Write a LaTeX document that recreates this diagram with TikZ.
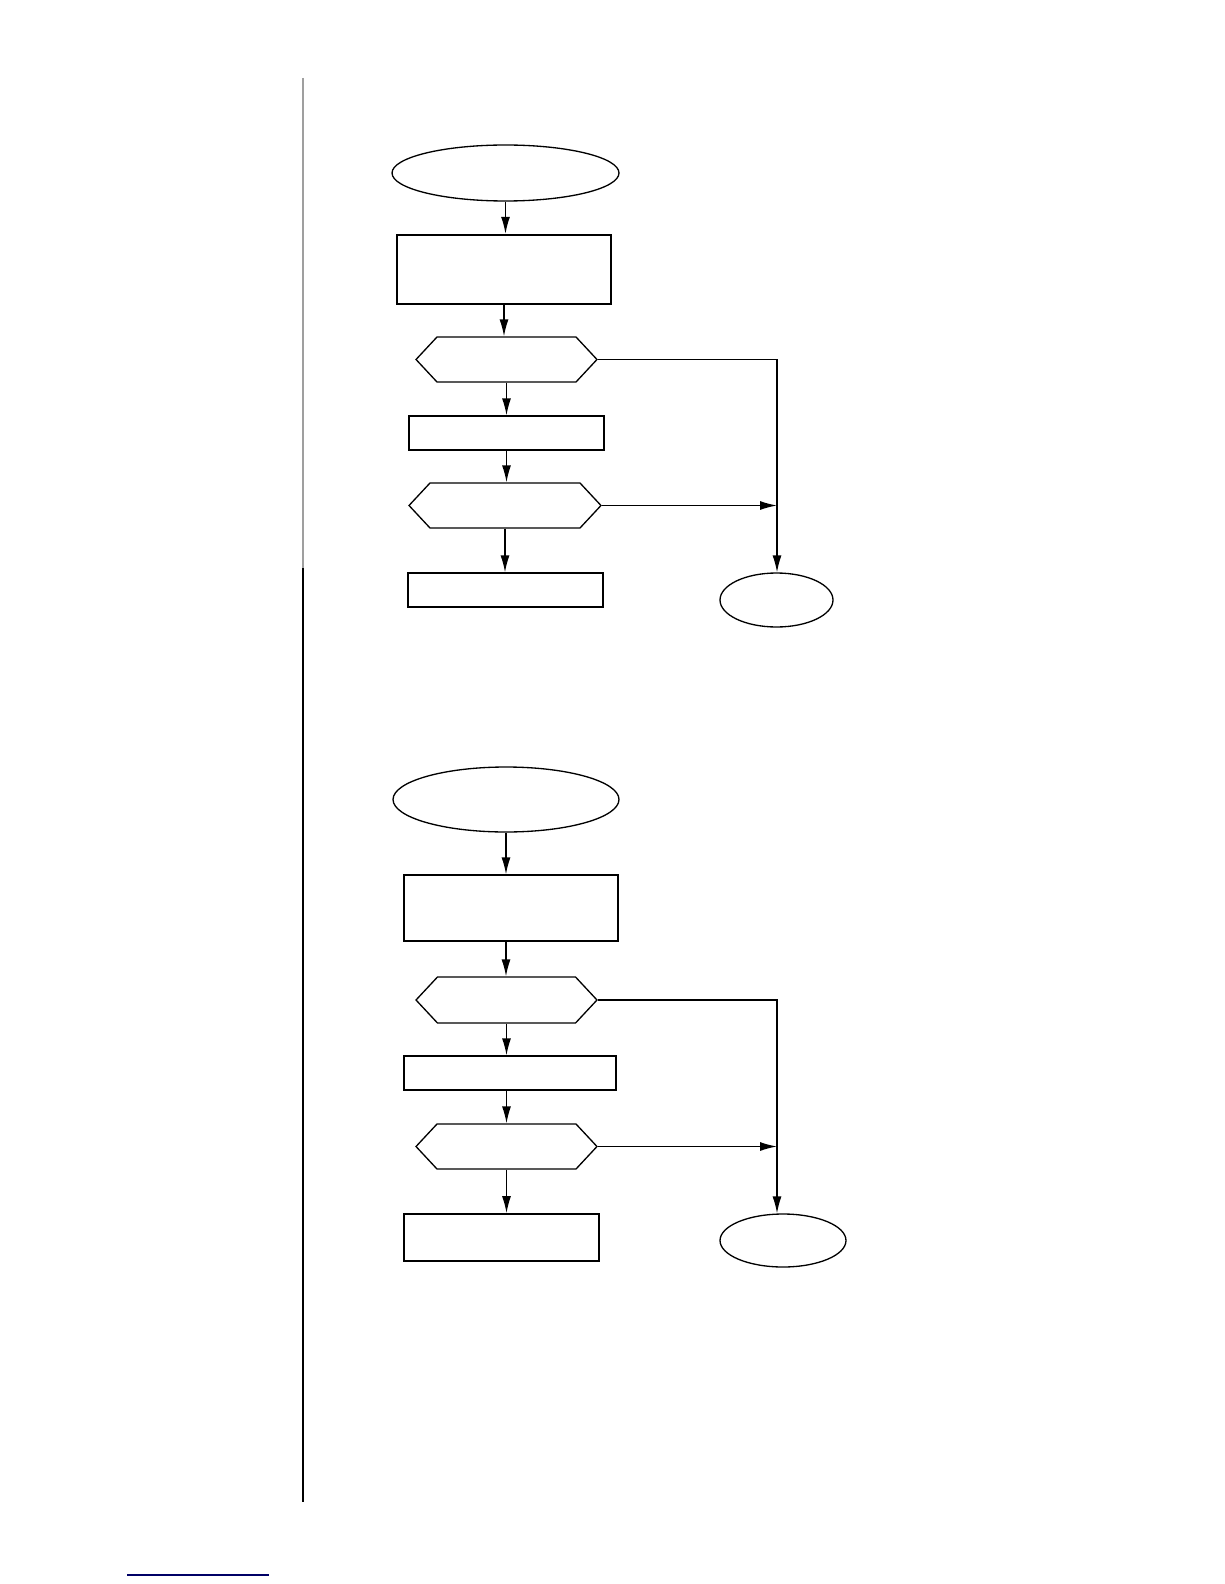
\documentclass[tikz,border=0pt]{standalone}
\usetikzlibrary{shapes.geometric,shapes.symbols,arrows.meta}
\begin{document}
\begin{tikzpicture}[x=0.02cm, y=-0.02cm, line width=0.75pt,
  term/.style={draw, ellipse, inner sep=0pt},
  stepbox/.style={draw, rectangle, inner sep=0pt},
  test/.style={draw, signal, signal from=nowhere, signal to=west and east, signal pointer angle=94, inner sep=0pt, minimum width=3.62cm, minimum height=0.90cm},
  flow/.style={-{Latex[length=0.34cm, width=0.18cm]}}]
  \useasboundingbox (0,0) rectangle (1224,1584);
  % margin rule and footer line
  \draw[gray!75, line width=0.9pt] (303,78) -- (303,568);
  \draw[line width=0.9pt] (303,568) -- (303,1502);
  \draw[blue!40!black, line width=0.6pt] (127,1575) -- (269,1575);
  % upper chart
  \node[term, minimum width=4.54cm, minimum height=1.12cm] (start1) at (505.5,173) {};
  \node[stepbox, line width=1.4pt, minimum width=4.28cm, minimum height=1.38cm] (box1a) at (504,269.5) {};
  \node[test] (hex1a) at (506.5,359.5) {};
  \node[stepbox, minimum width=3.90cm, minimum height=0.68cm] (box2a) at (506.5,433) {};
  \node[test, minimum width=3.84cm] (hex2a) at (505,505.5) {};
  \node[stepbox, minimum width=3.90cm, minimum height=0.68cm] (box3a) at (505.5,590) {};
  \node[term, minimum width=2.26cm, minimum height=1.08cm] (end1) at (776.5,600) {};
  \coordinate (j1) at (777,359.5);
  \draw[flow] (start1.south) -- (start1.south |- box1a.north);
  \draw[flow] (box1a.south) -- (box1a.south |- hex1a.north);
  \draw[flow] (hex1a.south) -- (hex1a.south |- box2a.north);
  \draw[flow] (box2a.south) -- (box2a.south |- hex2a.north);
  \draw[flow] (hex2a.south) -- (hex2a.south |- box3a.north);
  \draw[flow] (hex1a.east) -- (j1) -- (j1 |- end1.north);
  \draw[flow] (hex2a.east) -- (hex2a.east -| j1);
  % lower chart
  \node[term, minimum width=4.52cm, minimum height=1.30cm] (start2) at (506,799.5) {};
  \node[stepbox, minimum width=4.28cm, minimum height=1.32cm] (box1b) at (511,908) {};
  \node[test, minimum height=0.92cm] (hex1b) at (506.5,1000) {};
  \node[stepbox, minimum width=4.24cm, minimum height=0.68cm] (box2b) at (510,1073) {};
  \node[test] (hex2b) at (506.5,1146.5) {};
  \node[stepbox, line width=1pt, minimum width=3.90cm, minimum height=0.94cm] (box3b) at (501.5,1237.5) {};
  \node[term, minimum width=2.52cm, minimum height=1.06cm] (end2) at (783,1240.5) {};
  \coordinate (j2) at (777,1000);
  \draw[flow] (start2.south) -- (start2.south |- box1b.north);
  \draw[flow] (box1b.south -| start2.south) -- (start2.south |- hex1b.north);
  \draw[flow] (hex1b.south) -- (hex1b.south |- box2b.north);
  \draw[flow] (box2b.south -| hex1b.south) -- (hex1b.south |- hex2b.north);
  \draw[flow] (hex2b.south) -- (hex2b.south |- box3b.north);
  \draw[flow] (hex1b.east) -- (j2) -- (j2 |- end2.north);
  \draw[flow] (hex2b.east) -- (hex2b.east -| j2);
\end{tikzpicture}
\end{document}
